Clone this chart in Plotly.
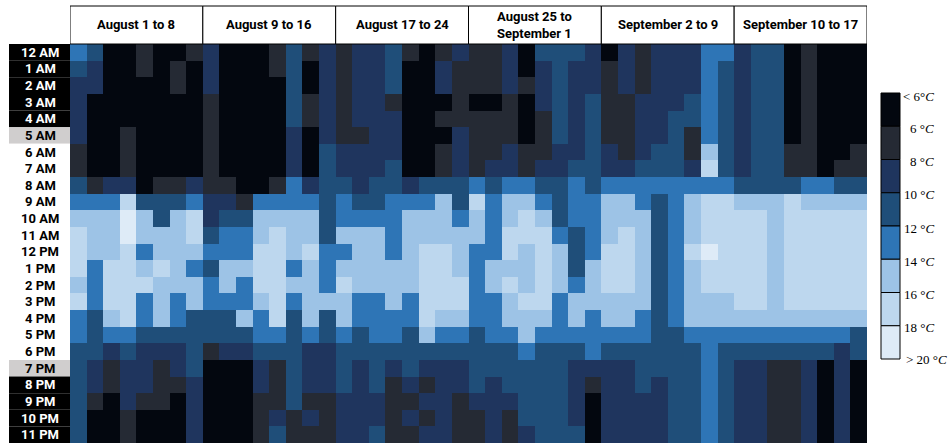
import plotly.graph_objects as go

# Hour-of-day rows
HOURS = ["12 AM", "1 AM", "2 AM", "3 AM", "4 AM", "5 AM", "6 AM", "7 AM", "8 AM",
         "9 AM", "10 AM", "11 AM", "12 PM", "1 PM", "2 PM", "3 PM", "4 PM", "5 PM",
         "6 PM", "7 PM", "8 PM", "9 PM", "10 PM", "11 PM"]

# Daylight state of each hour (row label background)
DAYLIGHT = ["night"] * 5 + ["twilight"] + ["day"] * 13 + ["twilight"] + ["night"] * 4

WEEKS = ["August 1 to 8", "August 9 to 16", "August 17 to 24",
         "August 25 to<br>September 1", "September 2 to 9", "September 10 to 17"]

# Hourly temperature (°C), one row per hour, one column per day
aug_01_08 = [
    [13, 11, 5, 5, 7, 5, 5, 7], [11, 9, 5, 5, 7, 5, 7, 5], [9, 9, 5, 5, 5, 5, 7, 5],
    [9, 5, 5, 5, 5, 5, 5, 5], [9, 5, 5, 5, 5, 5, 5, 5], [9, 5, 5, 7, 5, 5, 5, 5],
    [7, 5, 5, 7, 5, 5, 5, 5], [7, 5, 5, 7, 5, 5, 5, 5], [11, 7, 9, 9, 5, 7, 7, 9],
    [13, 13, 13, 17, 11, 11, 11, 13], [15, 15, 15, 19, 15, 11, 15, 17], [17, 15, 15, 19, 15, 15, 15, 17],
    [17, 15, 15, 17, 13, 15, 15, 15], [17, 13, 17, 17, 15, 17, 15, 13], [15, 13, 17, 17, 17, 15, 15, 15],
    [17, 13, 17, 17, 13, 15, 13, 15], [13, 11, 15, 17, 13, 15, 13, 11], [13, 11, 13, 13, 11, 11, 11, 11],
    [11, 11, 9, 11, 9, 9, 9, 11], [11, 9, 7, 9, 9, 7, 9, 11], [11, 9, 7, 9, 9, 7, 7, 9],
    [11, 7, 5, 9, 7, 7, 5, 9], [11, 5, 5, 7, 5, 5, 5, 9], [11, 5, 5, 7, 5, 5, 5, 9],
]
aug_09_16 = [
    [9, 5, 5, 5, 7, 11, 7, 9], [9, 5, 5, 5, 7, 11, 5, 9], [9, 5, 5, 5, 5, 11, 5, 9],
    [7, 5, 5, 5, 5, 11, 7, 9], [7, 5, 5, 5, 5, 11, 7, 9], [7, 5, 5, 5, 5, 9, 5, 9],
    [7, 5, 5, 5, 5, 9, 5, 11], [7, 5, 5, 5, 5, 9, 5, 11], [7, 7, 5, 5, 7, 13, 9, 11],
    [9, 9, 7, 13, 13, 13, 13, 11], [9, 11, 11, 15, 15, 15, 15, 11], [11, 13, 13, 15, 17, 15, 15, 11],
    [13, 13, 13, 17, 17, 15, 17, 13], [11, 15, 15, 17, 17, 13, 15, 13], [13, 15, 13, 17, 17, 15, 15, 13],
    [13, 13, 13, 15, 17, 13, 15, 15], [11, 11, 15, 13, 17, 11, 15, 11], [11, 11, 11, 13, 13, 11, 13, 11],
    [7, 9, 9, 11, 11, 11, 9, 9], [5, 5, 5, 9, 7, 11, 9, 9], [5, 5, 5, 9, 7, 11, 9, 9],
    [5, 5, 5, 7, 7, 11, 7, 7], [5, 5, 5, 7, 9, 7, 9, 7], [5, 5, 5, 7, 11, 7, 7, 7],
]
aug_17_24 = [
    [7, 9, 9, 11, 7, 5, 7, 9], [7, 9, 9, 11, 5, 5, 9, 7], [7, 9, 9, 11, 5, 5, 9, 7],
    [7, 9, 9, 7, 5, 5, 5, 7], [7, 9, 9, 9, 5, 5, 7, 7], [7, 7, 9, 9, 5, 5, 5, 9],
    [9, 9, 9, 9, 5, 5, 7, 9], [9, 9, 9, 11, 5, 5, 7, 9], [11, 9, 11, 11, 9, 11, 11, 11],
    [13, 11, 11, 13, 13, 13, 15, 11], [13, 13, 13, 13, 15, 15, 15, 13], [15, 15, 15, 13, 15, 15, 15, 15],
    [13, 15, 15, 13, 15, 17, 17, 15], [15, 15, 15, 15, 15, 17, 17, 15], [17, 15, 15, 15, 15, 17, 17, 17],
    [15, 13, 13, 15, 13, 17, 17, 17], [15, 13, 13, 13, 13, 17, 15, 15], [13, 11, 13, 13, 11, 15, 13, 13],
    [11, 11, 11, 11, 11, 11, 11, 11], [11, 9, 11, 9, 11, 9, 9, 9], [11, 9, 11, 7, 9, 7, 9, 9],
    [9, 9, 9, 7, 7, 9, 9, 7], [9, 9, 9, 7, 9, 7, 9, 7], [9, 9, 11, 7, 7, 9, 9, 7],
]
aug_25_sep_01 = [
    [7, 7, 9, 5, 11, 11, 11, 9], [7, 7, 9, 5, 9, 11, 9, 9], [7, 7, 9, 7, 9, 11, 9, 9],
    [5, 5, 7, 5, 9, 11, 9, 11], [7, 7, 7, 5, 7, 11, 9, 11], [7, 7, 7, 5, 7, 11, 9, 11],
    [7, 7, 9, 7, 7, 9, 9, 11], [7, 9, 9, 7, 9, 9, 11, 11], [13, 11, 13, 13, 11, 11, 13, 11],
    [17, 13, 15, 15, 13, 11, 13, 13], [15, 13, 15, 17, 15, 11, 13, 13], [15, 13, 17, 17, 17, 13, 11, 13],
    [13, 13, 17, 15, 17, 15, 11, 13], [13, 15, 15, 15, 17, 15, 11, 15], [13, 15, 17, 15, 17, 15, 13, 15],
    [13, 13, 15, 17, 17, 13, 15, 15], [13, 13, 15, 15, 15, 13, 15, 13], [11, 13, 13, 15, 13, 13, 13, 13],
    [11, 11, 11, 13, 11, 11, 11, 13], [11, 11, 11, 11, 11, 11, 9, 9], [11, 9, 11, 11, 11, 11, 9, 7],
    [9, 9, 9, 11, 11, 11, 9, 5], [7, 9, 7, 11, 11, 11, 9, 5], [7, 9, 7, 9, 11, 11, 11, 5],
]
sep_02_09 = [
    [5, 9, 7, 9, 9, 9, 13, 13], [7, 9, 7, 9, 9, 9, 13, 11], [7, 9, 7, 9, 9, 9, 13, 11],
    [7, 7, 9, 9, 9, 11, 13, 11], [7, 7, 9, 9, 11, 11, 13, 11], [7, 7, 9, 9, 11, 7, 13, 11],
    [9, 7, 9, 11, 11, 7, 15, 11], [9, 9, 11, 11, 11, 9, 17, 11], [13, 13, 13, 13, 13, 13, 13, 13],
    [15, 15, 13, 11, 13, 15, 17, 17], [15, 15, 15, 11, 13, 15, 17, 17], [15, 17, 15, 11, 13, 15, 17, 17],
    [17, 17, 15, 11, 13, 17, 19, 17], [17, 17, 15, 11, 13, 15, 17, 17], [17, 17, 15, 11, 13, 15, 17, 17],
    [15, 15, 15, 11, 13, 15, 15, 15], [15, 15, 13, 11, 13, 15, 15, 15], [13, 13, 13, 11, 11, 13, 13, 13],
    [11, 11, 11, 11, 11, 11, 13, 11], [9, 9, 11, 11, 11, 11, 13, 11], [9, 9, 11, 9, 11, 11, 13, 11],
    [9, 9, 9, 9, 11, 11, 13, 11], [9, 9, 9, 9, 11, 11, 13, 11], [9, 9, 9, 9, 11, 11, 13, 11],
]
sep_10_17 = [
    [9, 11, 11, 5, 7, 5, 5, 5], [9, 11, 11, 5, 7, 5, 5, 5], [9, 11, 11, 5, 7, 5, 5, 5],
    [9, 11, 11, 5, 7, 5, 5, 5], [9, 11, 11, 5, 7, 5, 5, 5], [9, 11, 11, 5, 7, 5, 5, 5],
    [9, 11, 11, 7, 7, 5, 5, 7], [9, 11, 11, 7, 7, 5, 7, 7], [11, 11, 11, 11, 13, 13, 11, 11],
    [15, 15, 15, 17, 15, 15, 15, 15], [17, 17, 15, 17, 17, 17, 17, 17], [17, 17, 15, 17, 17, 17, 17, 17],
    [17, 17, 15, 17, 17, 17, 17, 17], [17, 17, 15, 17, 17, 17, 17, 17], [17, 17, 15, 17, 17, 17, 17, 17],
    [17, 17, 15, 17, 17, 17, 17, 17], [15, 15, 15, 15, 15, 15, 15, 15], [13, 13, 13, 13, 13, 13, 13, 11],
    [11, 11, 11, 11, 11, 11, 9, 11], [9, 9, 7, 7, 9, 5, 9, 5], [9, 9, 7, 7, 9, 5, 9, 5],
    [9, 9, 7, 7, 9, 5, 9, 5], [9, 9, 7, 7, 9, 5, 9, 5], [9, 9, 7, 7, 9, 5, 9, 5],
]

WEEK_DATA = [aug_01_08, aug_09_16, aug_17_24, aug_25_sep_01, sep_02_09, sep_10_17]

# Temperature bands (2 °C wide) and their colours, coldest first
BAND_EDGES = [4, 6, 8, 10, 12, 14, 16, 18, 20]
BAND_COLORS = ["#03070f", "#252a34", "#1f355e", "#1f4e79",
               "#2e75b6", "#9dc3e6", "#bdd7ee", "#deebf7"]
BAND_LABELS = ["< 6°<i>C</i>", "6 °<i>C</i>", "8 °<i>C</i>", "10 °<i>C</i>", "12 °<i>C</i>",
               "14 °<i>C</i>", "16 °<i>C</i>", "18 °<i>C</i>", "> 20 °<i>C</i>"]

DAYS_PER_WEEK = 8
n_days = DAYS_PER_WEEK * len(WEEK_DATA)
z = [sum((week[h] for week in WEEK_DATA), []) for h in range(len(HOURS))]

n_bands = len(BAND_COLORS)
colorscale = []
for i, c in enumerate(BAND_COLORS):
    colorscale.append([i / n_bands, c])
    colorscale.append([(i + 1) / n_bands, c])

fig = go.Figure(go.Heatmap(
    z=z,
    x=list(range(n_days)),
    y=list(range(len(HOURS))),
    zmin=BAND_EDGES[0], zmax=BAND_EDGES[-1],
    colorscale=colorscale,
    showscale=False,
    xgap=0, ygap=0,
    customdata=[[HOURS[h]] * n_days for h in range(len(HOURS))],
    hovertemplate="%{customdata}: %{z} °C<extra></extra>",
))

W, H = 948, 443
ML, MR, MT, MB = 70, 81, 44, 0
PW, PH = W - ML - MR, H - MT - MB


def px_x(px):
    return (px - ML) / PW


def px_y(py):
    return (H - MB - py) / PH


shapes, annotations = [], []
HEADER_FONT = dict(family="Roboto", size=13, color="#000000", weight="bold")

# Week header boxes
for g, title in enumerate(WEEKS):
    x0, x1 = g * DAYS_PER_WEEK - 0.5, (g + 1) * DAYS_PER_WEEK - 0.5
    shapes.append(dict(type="rect", xref="x", yref="paper", x0=x0, x1=x1,
                       y0=1, y1=px_y(6), line=dict(color="#000000", width=1),
                       fillcolor="#ffffff", layer="above"))
    annotations.append(dict(xref="x", yref="paper", x=(x0 + x1) / 2, y=(1 + px_y(6)) / 2,
                            text=title, showarrow=False, font=HEADER_FONT,
                            xanchor="center", yanchor="middle"))

# Hour labels with daylight shading
LABEL_STYLE = {"night": ("#000000", "#ffffff"),
               "twilight": ("#d0cece", "#000000"),
               "day": ("#ffffff", "#000000")}
for h, (label, state) in enumerate(zip(HOURS, DAYLIGHT)):
    bg, fg = LABEL_STYLE[state]
    shapes.append(dict(type="rect", xref="paper", yref="y", x0=px_x(9), x1=0,
                       y0=h - 0.5, y1=h + 0.5, line=dict(width=0), fillcolor=bg))
    annotations.append(dict(xref="paper", yref="y", x=px_x(40), y=h, text=label,
                            showarrow=False, xanchor="center", yanchor="middle",
                            font=dict(family="Roboto", size=13, color=fg, weight="bold")))

# Temperature legend (coldest band on top)
LEG_X0, LEG_X1, LEG_TOP, LEG_BOT = 881, 900, 93, 359
band_h = (LEG_BOT - LEG_TOP) / n_bands
for i, c in enumerate(BAND_COLORS):
    top = LEG_TOP + i * band_h
    shapes.append(dict(type="rect", xref="paper", yref="paper",
                       x0=px_x(LEG_X0), x1=px_x(LEG_X1),
                       y0=px_y(top + band_h), y1=px_y(top),
                       line=dict(color="#000000", width=1), fillcolor=c))
LEG_FONT = dict(family="Liberation Serif", size=13, color="#000000")
for i, lab in enumerate(BAND_LABELS):
    last = i == n_bands
    ypos = LEG_TOP + i * band_h + (3 if i == 0 else (0 if last else 2))
    annotations.append(dict(xref="paper", yref="paper",
                            x=px_x(904 if last else 936), y=px_y(ypos),
                            text=lab, showarrow=False,
                            xanchor="left" if last else "right", yanchor="middle",
                            font=LEG_FONT))

fig.update_layout(
    width=W, height=H,
    margin=dict(l=ML, r=MR, t=MT, b=MB, pad=0),
    paper_bgcolor="#ffffff", plot_bgcolor="#ffffff",
    xaxis=dict(range=[-0.5, n_days - 0.5], visible=False, fixedrange=True),
    yaxis=dict(range=[len(HOURS) - 0.5, -0.5], visible=False, fixedrange=True),
    shapes=shapes,
    annotations=annotations,
    showlegend=False,
)

fig.write_html("out.html")
